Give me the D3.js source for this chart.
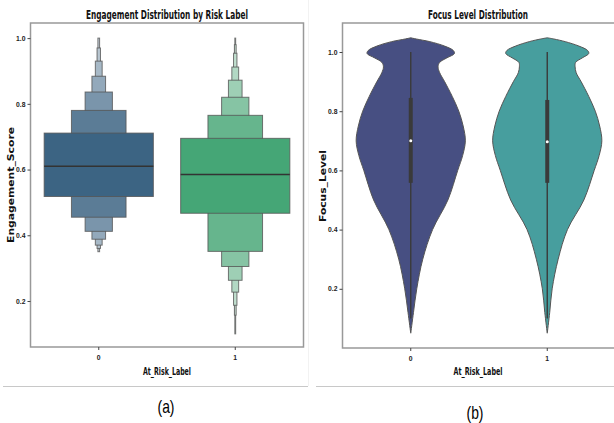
<!DOCTYPE html>
<html>
<head>
<meta charset="utf-8">
<script src="https://cdn.jsdelivr.net/npm/d3@7"></script>
<style>
  body { margin: 0; background: #fff; }
  text { font-family: "Liberation Sans", Arial, sans-serif; }
  .tick text { font-size: 6.8px; font-weight: bold; fill: #222; }
  .tick line { stroke: #444; }
  .bold { font-family: "DejaVu Sans", sans-serif; font-weight: bold; fill: #111; }
</style>
</head>
<body>
<div id="chart"></div>
<script>
// --------------------------------------
//  Data
// --------------------------------------

const riskLabels = ["0", "1"];
const yTicks = [0.2, 0.4, 0.6, 0.8, 1.0];

// letter-value boxes, [low, high] from the inner box outwards
const engagementLevels0 = [[0.518, 0.711], [0.455, 0.78], [0.412, 0.836], [0.388, 0.884], [0.37, 0.93], [0.36, 0.97], [0.35, 1.0]];
const engagementLevels1 = [[0.467, 0.695], [0.351, 0.765], [0.305, 0.82], [0.263, 0.872], [0.227, 0.912], [0.187, 0.954], [0.157, 0.98], [0.10, 1.0]];
const engagementMedians = [0.61, 0.585];

const boxenColors0 = ["#3c6483", "#5b7c96", "#7a95ab", "#93a9bb", "#a7b9c7", "#b8c6d1", "#c6d1da"];
const boxenColors1 = ["#45a676", "#66b58d", "#86c4a4", "#9ecfb5", "#b2d8c4", "#c1dfcf", "#cde5d8", "#d8ebe0"];

// violin outline: focus level grid and relative density
const focusGrid = [1.048, 1.044, 1.035, 1.02, 1.005, 0.995, 0.98, 0.965, 0.95, 0.93, 0.9, 0.85, 0.8, 0.75, 0.7, 0.65, 0.6, 0.5, 0.4, 0.3, 0.2, 0.12, 0.05];
const focusDensity0 = [0, 0.10, 0.35, 0.62, 0.78, 0.80, 0.66, 0.53, 0.50, 0.53, 0.62, 0.76, 0.88, 0.96, 1.0, 0.95, 0.86, 0.68, 0.40, 0.22, 0.11, 0.05, 0];
const focusDensity1 = [0, 0.12, 0.33, 0.58, 0.74, 0.76, 0.64, 0.52, 0.51, 0.53, 0.62, 0.76, 0.88, 0.96, 1.0, 0.95, 0.86, 0.67, 0.37, 0.20, 0.09, 0.045, 0];

const focusQ1 = [0.558, 0.558];
const focusQ3 = [0.845, 0.838];
const focusMedian = [0.70, 0.697];
const focusWhiskerLow = [0.10, 0.10];
const focusWhiskerHigh = [1.0, 1.0];
const violinColors = ["#474f82", "#479e9e"];

// --------------------------------------
//  Canvas
// --------------------------------------

const width = 614;
const height = 423;

const svg = d3
  .select("#chart")
  .append("svg")
  .attr("width", width)
  .attr("height", height)
  .attr("viewBox", [0, 0, width, height]);

svg.append("rect").attr("width", width).attr("height", height).attr("fill", "#fff");

// faint divider between panels + bottom rules
svg.append("line")
  .attr("x1", 308.5).attr("x2", 308.5).attr("y1", 0).attr("y2", 386)
  .attr("stroke", "#f2f2f2");
svg.append("line")
  .attr("x1", 3).attr("x2", 308).attr("y1", 386.5).attr("y2", 386.5)
  .attr("stroke", "#c8c8c8");
svg.append("line")
  .attr("x1", 316).attr("x2", 614).attr("y1", 386.5).attr("y2", 386.5)
  .attr("stroke", "#c8c8c8");

// --------------------------------------
//  Panel (a): boxen plot
// --------------------------------------

const xA = d3.scaleBand(riskLabels, [30.5, 303.5]);
const yA = d3.scaleLinear([0.06, 1.046], [347, 23]);

const panelA = svg.append("g");

const boxenData = [
  { label: "0", levels: engagementLevels0, colors: boxenColors0, median: engagementMedians[0] },
  { label: "1", levels: engagementLevels1, colors: boxenColors1, median: engagementMedians[1] }
];

boxenData.forEach(cat => {
  const cx = xA(cat.label) + xA.bandwidth() / 2;
  const half = xA.bandwidth() * 0.8 / 2;
  const rects = cat.levels.map((lv, i) => ({ lo: lv[0], hi: lv[1], i, color: cat.colors[i] }));

  // outer levels first so the inner box sits on top
  panelA.selectAll(null)
    .data(rects.slice().reverse())
    .join("rect")
    .attr("x", d => cx - half / Math.pow(2, d.i))
    .attr("width", d => 2 * half / Math.pow(2, d.i))
    .attr("y", d => yA(d.hi))
    .attr("height", d => yA(d.lo) - yA(d.hi))
    .attr("fill", d => d.color)
    .attr("stroke", "#555")
    .attr("stroke-opacity", 0.8)
    .attr("stroke-width", 1);

  panelA.append("line")
    .attr("x1", cx - half).attr("x2", cx + half)
    .attr("y1", yA(cat.median)).attr("y2", yA(cat.median))
    .attr("stroke", "#333")
    .attr("stroke-width", 1.6);
});

panelA.append("rect")
  .attr("x", 30.5).attr("y", 23)
  .attr("width", 273).attr("height", 324)
  .attr("fill", "none")
  .attr("stroke", "#999")
  .attr("stroke-width", 1.5);

panelA.append("g")
  .attr("transform", "translate(30.5,0)")
  .call(d3.axisLeft(yA).tickValues(yTicks).tickSize(3).tickPadding(2).tickFormat(d3.format(".1f")))
  .select(".domain").remove();

panelA.append("g")
  .attr("transform", "translate(0,347)")
  .call(d3.axisBottom(xA).tickSize(3).tickPadding(5))
  .select(".domain").remove();

panelA.append("text")
  .attr("class", "bold")
  .attr("x", 167).attr("y", 19)
  .attr("text-anchor", "middle")
  .attr("font-size", 12)
  .attr("textLength", 162).attr("lengthAdjust", "spacingAndGlyphs")
  .text("Engagement Distribution by Risk Label");

panelA.append("text")
  .attr("class", "bold")
  .attr("x", 167).attr("y", 375)
  .attr("text-anchor", "middle")
  .attr("font-size", 10.5)
  .attr("textLength", 48).attr("lengthAdjust", "spacingAndGlyphs")
  .text("At_Risk_Label");

panelA.append("text")
  .attr("class", "bold")
  .attr("transform", "translate(13.5,185) rotate(-90)")
  .attr("text-anchor", "middle")
  .attr("font-size", 8.5)
  .attr("textLength", 116).attr("lengthAdjust", "spacingAndGlyphs")
  .text("Engagement_Score");

// --------------------------------------
//  Panel (b): violin plot
// --------------------------------------

const xB = d3.scaleBand(riskLabels, [342.5, 615.5]);
const yB = d3.scaleLinear([0.0, 1.098], [348, 23]);

const panelB = svg.append("g");

const violinData = [focusDensity0, focusDensity1].map((dens, k) => ({
  label: riskLabels[k],
  points: focusGrid.map((v, i) => ({ v, d: dens[i] })),
  color: violinColors[k],
  q1: focusQ1[k], q3: focusQ3[k], median: focusMedian[k],
  lo: focusWhiskerLow[k], hi: focusWhiskerHigh[k]
}));

violinData.forEach(cat => {
  const cx = xB(cat.label) + xB.bandwidth() / 2;
  const half = xB.bandwidth() * 0.8 / 2;

  const area = d3.area()
    .y(p => yB(p.v))
    .x0(p => cx - half * p.d)
    .x1(p => cx + half * p.d)
    .curve(d3.curveCatmullRom);

  panelB.append("path")
    .attr("d", area(cat.points))
    .attr("fill", cat.color)
    .attr("stroke", "#555")
    .attr("stroke-width", 1);

  panelB.append("line")
    .attr("x1", cx).attr("x2", cx)
    .attr("y1", yB(cat.hi)).attr("y2", yB(cat.lo))
    .attr("stroke", "#3a3a3a")
    .attr("stroke-width", 1.4);

  panelB.append("line")
    .attr("x1", cx).attr("x2", cx)
    .attr("y1", yB(cat.q3)).attr("y2", yB(cat.q1))
    .attr("stroke", "#3a3a3a")
    .attr("stroke-width", 4);

  panelB.append("circle")
    .attr("cx", cx).attr("cy", yB(cat.median))
    .attr("r", 1.5)
    .attr("fill", "#fff");
});

panelB.append("path")
  .attr("d", "M616,23H342.5V348H616")
  .attr("fill", "none")
  .attr("stroke", "#999")
  .attr("stroke-width", 1.5);

panelB.append("g")
  .attr("transform", "translate(342.5,0)")
  .call(d3.axisLeft(yB).tickValues(yTicks).tickSize(3).tickPadding(2).tickFormat(d3.format(".1f")))
  .select(".domain").remove();

panelB.append("g")
  .attr("transform", "translate(0,348)")
  .call(d3.axisBottom(xB).tickSize(3).tickPadding(5))
  .select(".domain").remove();

panelB.append("text")
  .attr("class", "bold")
  .attr("x", 478).attr("y", 19)
  .attr("text-anchor", "middle")
  .attr("font-size", 12)
  .attr("textLength", 100).attr("lengthAdjust", "spacingAndGlyphs")
  .text("Focus Level Distribution");

panelB.append("text")
  .attr("class", "bold")
  .attr("x", 478).attr("y", 375)
  .attr("text-anchor", "middle")
  .attr("font-size", 10.5)
  .attr("textLength", 49).attr("lengthAdjust", "spacingAndGlyphs")
  .text("At_Risk_Label");

panelB.append("text")
  .attr("class", "bold")
  .attr("transform", "translate(325.5,186) rotate(-90)")
  .attr("text-anchor", "middle")
  .attr("font-size", 8.5)
  .attr("textLength", 72).attr("lengthAdjust", "spacingAndGlyphs")
  .text("Focus_Level");

// --------------------------------------
//  Sub-captions
// --------------------------------------

svg.append("text")
  .attr("x", 166).attr("y", 413)
  .attr("text-anchor", "middle")
  .attr("font-size", 19)
  .attr("textLength", 17).attr("lengthAdjust", "spacingAndGlyphs")
  .text("(a)");

svg.append("text")
  .attr("x", 475).attr("y", 419)
  .attr("text-anchor", "middle")
  .attr("font-size", 19)
  .attr("textLength", 17).attr("lengthAdjust", "spacingAndGlyphs")
  .text("(b)");
</script>
</body>
</html>
